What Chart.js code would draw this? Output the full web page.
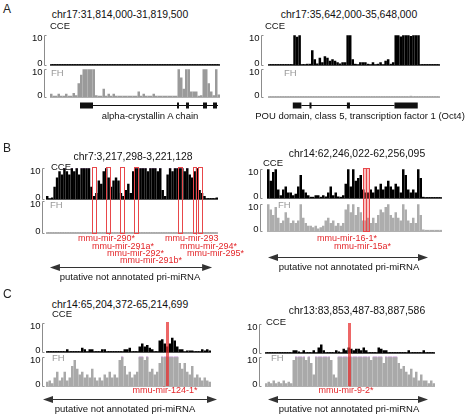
<!DOCTYPE html>
<html>
<head>
<meta charset="utf-8">
<script src="https://cdn.jsdelivr.net/npm/chart.js@4.4.1/dist/chart.umd.min.js"></script>
<style>
html,body{margin:0;padding:0;background:#fff;}
body{width:470px;height:418px;position:relative;overflow:hidden;font-family:"Liberation Sans",Arial,sans-serif;}
canvas{position:absolute;}
.t{position:absolute;white-space:nowrap;transform:translate(-50%,-50%);font-size:9.5px;color:#111;line-height:1;}
.h{position:absolute;white-space:nowrap;transform:translate(-50%,-50%);font-size:10.4px;color:#111;line-height:1;}
.m{position:absolute;white-space:nowrap;transform:translateY(-50%);font-size:9px;color:#e3262a;line-height:1;}
.mc{position:absolute;white-space:nowrap;transform:translate(-50%,-50%);font-size:9px;color:#e3262a;line-height:1;}
.p{position:absolute;font-size:12px;color:#222;line-height:1;transform:translateY(-50%);}
</style>
</head>
<body>
<script>
/* ---------------- data ---------------- */
// regions (titles)
const A1_REGION = 'chr17:31,814,000-31,819,500';
const A2_REGION = 'chr17:35,642,000-35,648,000';
const B1_REGION = 'chr7:3,217,298-3,221,128';
const B2_REGION = 'chr14:62,246,022-62,256,095';
const C1_REGION = 'chr14:65,204,372-65,214,699';
const C2_REGION = 'chr13:83,853,487-83,887,586';

// coverage per bin (clipped at 10)
const A1_CCE = [0,0,0,0,0,0,0,0,0,0, 0,0,0,0,0,0,0,0,0,0, 0,0,0,0,0,0,0,0,0,0, 0,0,0,0,0,0,0,0,0,0,
                0,0,0,0,0,0,0,0,0,0, 0,0,0,0,0,0,0,0,0,0, 0,0,0,0,0,0,0,0];
const A1_FH  = [1.2,.4,.4,1.2,.4,.4,1.2,.4,.4,1.5, .6,5,8,10,10,10,10,10,.6,.4, .4,3,.4,1.2,.4,1.2,.4,.4,.4,.4,
                .4,.4,.4,.4,.4,2,.4,1.2,.4,.4, .4,1.2,.4,.4,.4,.4,.4,.4,.4,.4, .4,10,7,3,10,10,2,2,2,.4, .6,10,10,5,2,.6,10,1];
const A2_CCE = [0,0,0,0,0,0,0,0,0,0, 10,9.5,10,0,0,.3,.3,5,2,.5, 2.5,1,3,2.5,1.5,2,1.5,1,.5,1,
                1,10,10,2,.3,0,1,1,1,.3, 0,1,0,.3,1,0,1.5,2,.3,1, 10,10,9.6,10,10,10,9.7,10,10,10, 0,0,0,0,0,0,0,0];
const A2_FH  = [0,0,0,0,0,0,0,0,0,0, 0,0,0,0,0,0,0,0,0,0, 0,0,0,0,0,0,0,0,0,0, 0,0,0,0,0,0,0,0,0,0,
                0,0,0,0,0,0,0,0,0,0, 0,0,0,0,0,0,.3,0,0,0, 0,0,0,0,0,0,0,0];
const B1_CCE = [1,0,.5,4,7,9,8,10,9,8, 10,9,10,8,10,10,10,10,4,1, 2,6,5,9,10,7,4,6,7,6,
                2,1,3,5,2,9,10,10,10,10, 10,9,10,10,10,9,10,3,1,8, 10,9,10,10,10,10,9,10,8,7, 9,10,3,2,1,0,0,0,0,.5];
const B1_FH  = [0,0,0,0,0,0,0,0,0,0, 0,0,0,0,0,0,0,0,0,0, 0,0,0,0,0,0,0,0,0,0,
                0,0,0,0,0,0,0,0,0,0, 0,0,0,0,0,0,0,0,0,0, 0,0,0,0,0,0,0,0,0,0, 0,0,0,0,0,0,0,0,0,0];
const B2_CCE = [10,6,9,10,3,1,3,4,2,2, 1,1.5,4,8,3,2,1,.3,.3,1, 1,.3,1,.5,2,4,1,2,.5,.3,
                1,5,10,4,10,6,7,8,3,2, 2,3,2,4,3,5,3,4,6,4, 3,5,4,2,10,8,3,2,3,2, 10,7,.3,0,0,0,0,0,0,0];
const B2_FH  = [10,8,6,9,5,3,4,7,5,3, 4,3,4,10,5,3,2,2,1.5,2, 1,1.5,2,4,5,3,4,2,3,2,
                3,8,10,7,10,6,9,7,4,4, 5,3,5,3,6,8,7,9,10,6, 5,7,5,4,10,8,4,3,5,3, 10,6,.5,.3,.3,.3,.3,.3,.3,.3];
const C1_CCE = [0,0,0,0,0,0,0,0,1,0, 0,0,0,0,1.5,1,0,1,1,0, 0,0,1,1,0,0,0,0,0,0,
                0,1,1,1.5,0,0,0,2,3,2, 2.5,1.5,1,0,0,4,4.5,3,2,3, 5,4,2,1,1,0,.5,.5,.5,0, 0,0,1,.5,1,.5];
const C1_FH  = [1.5,2,1,3,5,2,3,5,2,3, 7,9,6,4,5,3,4,3,6,3, 2,3,2,4,3,5,3,4,3,9,
                10,7,4,5,3,4,5,10,10,9, 10,5,6,4,5,8,10,10,10,10, 10,10,10,8,6,8,5,4,7,3, 4,3,2,3,2,1.5];
const C2_CCE = [0,0,0,0,0,0,0,0,0,0, 0,1,1,.5,0,1,0,0,0,1, 0,2,3,1,0,0,0,0,1,.5,
                0,1.5,1,2,1.5,1,1.5,1.5,1,2, 1,0,0,0,0,2,1.5,1,1,0, 0,0,0,0,0,0,0,1,0,0, 0,0,0,1,0,0,0,0];
const C2_FH  = [1,1.5,1,2,1,1.5,1,2,1,1.5, 1,9,10,10,10,10,9,10,8,4, 10,10,10,10,10,10,9,4,3,10,
                10,10,10,10,10,10,10,10,10,10, 10,10,9,10,10,10,10,8,10,10, 10,10,10,8,6,7,5,4,6,3, 5,2,4,2,2,1,2,1];

// gene models (bin units)
const A1_GENE   = 'alpha-crystallin A chain';
const A1_EXONS  = [[12,17.2],[50.8,51.6],[54.4,55.6],[61.2,62.8],[65.2,66.8]];
const A1_INTRON = [17.2,67.2];
const A2_GENE   = 'POU domain, class 5, transcription factor 1 (Oct4)';
const A2_EXONS  = [[9.8,13.2],[16.4,17.2],[31.2,32.4],[50,59.2]];
const A2_INTRON = [13.2,50];

// miRNAs: name, start bin, end bin
const B1_MIRS = [['mmu-mir-290*',18.7,20.4],['mmu-mir-291a*',24.4,26],['mmu-mir-292*',30.1,31.7],
                 ['mmu-mir-291b*',35.8,37.4],['mmu-mir-293',53.7,55.4],['mmu-mir-294*',59.8,61],['mmu-mir-295*',61.9,63.5]];
const B2_MIRS = [['mmu-mir-16-1*',38.5,39.6],['mmu-mir-15a*',39.5,40.8]];
const C1_MIRS = [['mmu-mir-124-1*',48,49.2]];
const C2_MIRS = [['mmu-mir-9-2*',33.2,34.4]];

// putative pri-miRNA extents (bins)
const PRI_LABEL = 'putative not annotated pri-miRNA';
const B1_PRI = [1.6,67.6];
const B2_PRI = [0.4,64.4];
const C1_PRI = [-1.2,68.4];
const C2_PRI = [1.2,65.2];

/* ---------------- layout ---------------- */
const FONT = '"Liberation Sans", Arial, sans-serif';
const panels = [
  {cce:A1_CCE, fh:A1_FH, box:{left:0,top:20,width:235,height:105}, x0:50, x1:220, c10:35, c0:65, f10:69, f0:97,
   brX:44, cceLab:[50,26], fhLab:[51,73], fhColor:'#9a9a9a', gene:{exons:A1_EXONS, line:A1_INTRON, y:105}},
  {cce:A2_CCE, fh:A2_FH, box:{left:235,top:20,width:235,height:105}, x0:268, x1:440, c10:35, c0:65, f10:69, f0:97,
   brX:261, cceLab:[265,26], fhLab:[284,73], fhColor:'#a6a6a6', gene:{exons:A2_EXONS, line:A2_INTRON, y:105}},
  {cce:B1_CCE, fh:B1_FH, box:{left:0,top:160,width:235,height:125}, x0:46, x1:218, c10:168, c0:199, f10:201, f0:233,
   brX:42, cceLab:[51,167], fhLab:[50,205], fhColor:'#a6a6a6', capC:true, mirs:B1_MIRS, mirStyle:'outline', pri:B1_PRI, priY:267},
  {cce:B2_CCE, fh:B2_FH, box:{left:235,top:155,width:235,height:120}, x0:267, x1:442, c10:169, c0:198, f10:204, f0:231,
   brX:260, cceLab:[263,163], fhLab:[278,205], fhColor:'#adadad', mirs:B2_MIRS, mirStyle:'pink', pri:B2_PRI, priY:257},
  {cce:C1_CCE, fh:C1_FH, box:{left:0,top:310,width:235,height:108}, x0:46, x1:211, c10:323, c0:352, f10:357, f0:386,
   brX:42, cceLab:[52,314], fhLab:[52,358], fhColor:'#a9a9a9', capF:true, mirs:C1_MIRS, mirStyle:'band', pri:C1_PRI, priY:399},
  {cce:C2_CCE, fh:C2_FH, box:{left:235,top:310,width:235,height:108}, x0:265, x1:435, c10:324, c0:353, f10:357, f0:386,
   brX:259, cceLab:[266,322], fhLab:[271,358], fhColor:'#a9a9a9', capF:true, mirs:C2_MIRS, mirStyle:'band', pri:C2_PRI, priY:399},
];

// text placements
const texts = [
  ['h', A1_REGION, 120, 15], ['h', A2_REGION, 349, 15],
  ['h', B1_REGION, 133, 157], ['h', B2_REGION, 357, 154],
  ['h', C1_REGION, 120, 305], ['h', C2_REGION, 357, 311],
  ['t', A1_GENE, 150, 116], ['t', A2_GENE, 360, 116],
  ['t', PRI_LABEL, 130, 277], ['t', PRI_LABEL, 349, 267],
  ['t', PRI_LABEL, 125, 409], ['t', PRI_LABEL, 349, 409],
  ['p', 'A', 3, 9], ['p', 'B', 3, 148], ['p', 'C', 3, 294],
  ['m', B1_MIRS[0][0], 78, 238], ['m', B1_MIRS[1][0], 92, 246], ['m', B1_MIRS[2][0], 107, 253],
  ['m', B1_MIRS[3][0], 120, 260], ['m', B1_MIRS[4][0], 165, 238], ['m', B1_MIRS[5][0], 180, 246],
  ['m', B1_MIRS[6][0], 187, 253],
  ['m', B2_MIRS[0][0], 317, 238], ['m', B2_MIRS[1][0], 334, 246],
  ['mc', C1_MIRS[0][0], 165, 390], ['mc', C2_MIRS[0][0], 346, 390],
];

/* ---------------- helpers ---------------- */
const bars = vals => vals.map((v,i)=>({x:i+0.5, y:v}));

function trackPlugin(s){
  const b = s.box;
  return {
    id:'tracks',
    afterDatasetsDraw(chart){
      const {ctx, chartArea:a, scales:{x,yc,yf}} = chart;
      ctx.save();
      ctx.lineWidth = 1;

      // baselines
      let y = Math.round(yc.getPixelForValue(0)) + 0.5;
      ctx.strokeStyle = '#555';
      ctx.beginPath(); ctx.moveTo(a.left, y); ctx.lineTo(a.right, y); ctx.stroke();
      y = Math.round(yf.getPixelForValue(0)) + 0.5;
      ctx.strokeStyle = '#b0b0b0';
      ctx.beginPath(); ctx.moveTo(a.left, y); ctx.lineTo(a.right, y); ctx.stroke();

      // brackets + tick labels
      const bx = s.brX - b.left;
      ctx.font = '9.5px ' + FONT;
      ctx.textAlign = 'right'; ctx.textBaseline = 'middle';
      [yc, yf].forEach(sc=>{
        const t = Math.round(sc.getPixelForValue(10)) + 0.5;
        const bt = Math.round(sc.getPixelForValue(0)) + 0.5;
        ctx.strokeStyle = '#8c8c8c';
        ctx.beginPath(); ctx.moveTo(bx+2.5, t); ctx.lineTo(bx+0.5, t); ctx.lineTo(bx+0.5, bt); ctx.lineTo(bx+2.5, bt); ctx.stroke();
        ctx.fillStyle = '#111';
        ctx.fillText('10', bx - 1.5, t + 2.5);
        ctx.fillText('0', bx - 1.5, bt - 2.5);
      });

      // miRNA marks
      (s.mirs || []).forEach(m=>{
        const mx0 = x.getPixelForValue(m[1]), mx1 = x.getPixelForValue(m[2]);
        const top = yc.getPixelForValue(10) - 1, bot = yf.getPixelForValue(0);
        if (s.mirStyle === 'band') {
          ctx.fillStyle = 'rgba(230,45,45,0.72)';
          ctx.fillRect(mx0, top, mx1 - mx0, bot - top);
        } else {
          if (s.mirStyle === 'pink') {
            ctx.fillStyle = 'rgba(240,90,90,0.35)';
            ctx.fillRect(mx0, top, mx1 - mx0, bot - top);
          }
          ctx.strokeStyle = '#e8474a';
          ctx.strokeRect(Math.round(mx0)+0.5, Math.round(top)+0.5, Math.max(2, Math.round(mx1-mx0)), Math.round(bot-top));
        }
      });

      // track labels
      ctx.textAlign = 'left';
      ctx.fillStyle = '#111';
      ctx.fillText('CCE', s.cceLab[0] - b.left, s.cceLab[1] - b.top);
      ctx.fillStyle = '#999';
      ctx.fillText('FH', s.fhLab[0] - b.left, s.fhLab[1] - b.top);

      // gene model
      if (s.gene) {
        const gy = s.gene.y - b.top;
        ctx.strokeStyle = '#111'; ctx.fillStyle = '#111';
        ctx.beginPath();
        ctx.moveTo(x.getPixelForValue(s.gene.line[0]), gy + 0.5);
        ctx.lineTo(x.getPixelForValue(s.gene.line[1]), gy + 0.5);
        ctx.stroke();
        s.gene.exons.forEach(e=>{
          const e0 = x.getPixelForValue(e[0]), e1 = x.getPixelForValue(e[1]);
          ctx.fillRect(e0, gy - 2.5, e1 - e0, 6);
        });
      }

      // pri-miRNA double arrow
      if (s.pri) {
        const p0 = x.getPixelForValue(s.pri[0]), p1 = x.getPixelForValue(s.pri[1]);
        const py = s.priY - b.top + 0.5;
        ctx.strokeStyle = '#333'; ctx.fillStyle = '#333';
        ctx.beginPath(); ctx.moveTo(p0 + 6, py); ctx.lineTo(p1 - 6, py); ctx.stroke();
        ctx.beginPath(); ctx.moveTo(p0, py); ctx.lineTo(p0 + 10, py - 3.5); ctx.lineTo(p0 + 10, py + 3.5); ctx.closePath(); ctx.fill();
        ctx.beginPath(); ctx.moveTo(p1, py); ctx.lineTo(p1 - 10, py - 3.5); ctx.lineTo(p1 - 10, py + 3.5); ctx.closePath(); ctx.fill();
      }
      ctx.restore();
    }
  };
}

/* ---------------- charts ---------------- */
panels.forEach(s=>{
  const b = s.box;
  const cv = document.createElement('canvas');
  cv.width = b.width; cv.height = b.height;
  cv.style.left = b.left + 'px'; cv.style.top = b.top + 'px';
  cv.style.width = b.width + 'px'; cv.style.height = b.height + 'px';
  document.body.appendChild(cv);

  const cap = on => (c => (on && c.raw && c.raw.y >= 10) ? '#c99ad8' : 'rgba(0,0,0,0)');
  const common = {grouped:false, barPercentage:1, categoryPercentage:1, inflateAmount:0.8,
                  borderWidth:{top:1,left:0,right:0,bottom:0}, borderSkipped:false};

  new Chart(cv, {
    type:'bar',
    data:{datasets:[
      {data:bars(s.fh),  yAxisID:'yf', backgroundColor:s.fhColor, borderColor:cap(s.capF), ...common},
      {data:bars(s.cce), yAxisID:'yc', backgroundColor:'#000',    borderColor:cap(s.capC), ...common}
    ]},
    options:{
      responsive:false, animation:false, events:[], devicePixelRatio:1,
      layout:{padding:{left:s.x0-b.left, right:b.left+b.width-s.x1, top:s.c10-b.top, bottom:b.top+b.height-s.f0}},
      scales:{
        x: {type:'linear', display:false, offset:false, min:0, max:s.cce.length},
        yc:{type:'linear', display:false, min:-(s.f0-s.c0)*10/(s.c0-s.c10), max:10},
        yf:{type:'linear', display:false, min:0, max:(s.f0-s.c10)*10/(s.f0-s.f10)}
      },
      plugins:{legend:{display:false}, tooltip:{enabled:false}}
    },
    plugins:[trackPlugin(s)]
  });
});

/* ---------------- text ---------------- */
texts.forEach(([cls, txt, x, y])=>{
  const d = document.createElement('div');
  d.className = cls;
  d.textContent = txt;
  d.style.left = x + 'px'; d.style.top = y + 'px';
  document.body.appendChild(d);
});
</script>
</body>
</html>
